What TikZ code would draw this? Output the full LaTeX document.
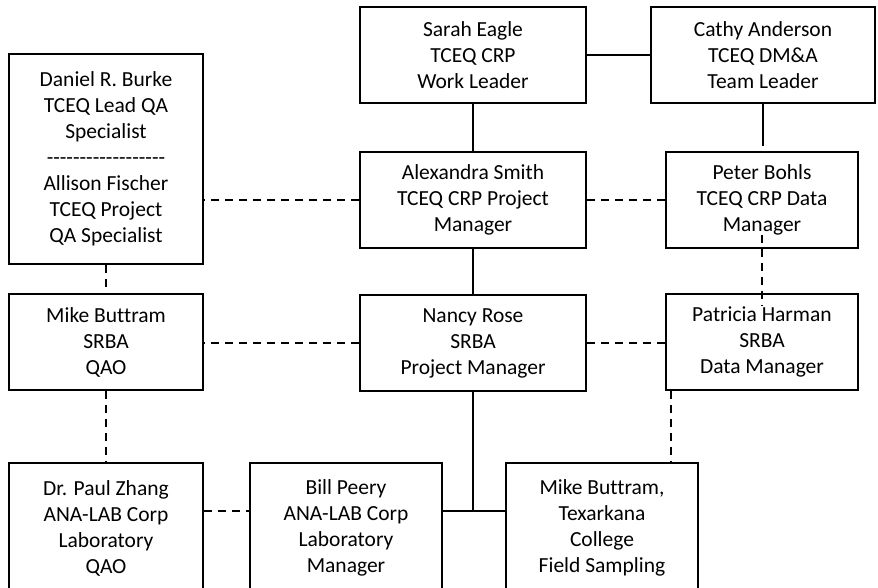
\documentclass[tikz,border=0pt]{standalone}
\usepackage{fontspec}
\setmainfont{Carlito}[Ligatures={TeXOff,NoCommon}]
\begin{document}
\begin{tikzpicture}[x=1pt,y=-1pt,
  box/.style={draw, line width=2pt, inner sep=0pt, align=center,
    font=\fontsize{21.5}{26}\selectfont},
  solidline/.style={line width=2pt},
  dashline/.style={line width=2pt, dash pattern=on 8pt off 6pt}]
\clip (0,0) rectangle (878,587);
\useasboundingbox (0,0) rectangle (878,587);
\fill[white] (0,0) rectangle (878,587);
\node[box, minimum width=194pt, minimum height=210pt] (daniel) at (106,159)
  {Daniel R. Burke\\TCEQ Lead QA\\Specialist\\------------------\\Allison Fischer\\TCEQ Project\\QA Specialist};
\node[box, minimum width=226pt, minimum height=96pt] (sarah) at (473,55)
  {Sarah Eagle\\TCEQ CRP\\Work Leader};
\node[box, minimum width=224pt, minimum height=96pt] (cathy) at (763,55)
  {Cathy Anderson\\TCEQ DM\&A\\Team Leader};
\node[box, minimum width=226pt, minimum height=96pt] (alex) at (473,200)
  {Alexandra Smith\\TCEQ CRP Project\\Manager};
\node[box, minimum width=192pt, minimum height=96pt] (peter) at (762,200)
  {Peter Bohls\\TCEQ CRP Data\\Manager};
\node[box, minimum width=194pt, minimum height=96pt] (mike) at (106,342)
  {Mike Buttram\\SRBA\\QAO};
\node[box, minimum width=226pt, minimum height=96pt] (nancy) at (473,343)
  {Nancy Rose\\SRBA\\Project Manager};
\node[box, minimum width=192pt, minimum height=96pt] (patricia) at (762,342)
  {Patricia Harman\\SRBA\\Data Manager};
\node[box, minimum width=194pt, minimum height=130pt] (zhang) at (106,528)
  {Dr. Paul Zhang\\ANA-LAB Corp\\Laboratory\\QAO};
\node[box, minimum width=192pt, minimum height=130pt] (bill) at (346,528)
  {Bill Peery\\ANA-LAB Corp\\Laboratory\\Manager};
\node[box, minimum width=192pt, minimum height=130pt] (field) at (602,528)
  {Mike Buttram,\\Texarkana\\College\\Field Sampling};
\coordinate (j) at (473,511);
\coordinate (pf) at (671,0);
\draw[solidline] (sarah.east) -- (cathy.west);
\draw[solidline] (sarah.south) -- (alex.north);
\draw[solidline, shorten >=5pt] (cathy.south) -- (cathy.south |- peter.north);
\draw[solidline] (alex.south) -- (nancy.north);
\draw[solidline] (nancy.south) -- (j);
\draw[solidline] (bill.east |- j) -- (field.west |- j);
\draw[dashline] (alex.west) -- (alex.west -| daniel.east);
\draw[dashline] (alex.east) -- (peter.west);
\draw[dashline] (daniel.south) -- (mike.north);
\draw[dashline] (nancy.west) -- (nancy.west -| mike.east);
\draw[dashline] (nancy.east) -- (nancy.east -| patricia.west);
\draw[dashline, shorten <=-14pt, shorten >=-13pt] (peter.south) -- (peter.south |- patricia.north);
\draw[dashline] (mike.south) -- (zhang.north);
\draw[dashline] (zhang.east |- j) -- (bill.west |- j);
\draw[dashline] (pf |- patricia.south) -- (pf |- field.north);
\end{tikzpicture}
\end{document}
